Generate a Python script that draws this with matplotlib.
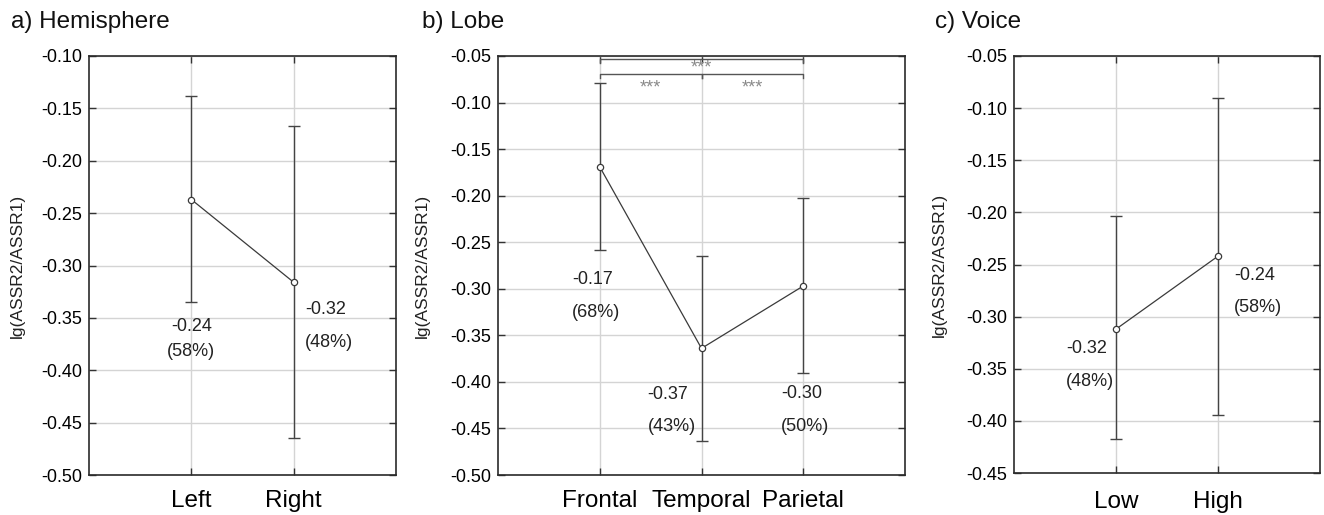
import matplotlib
matplotlib.use("Agg")
import matplotlib.pyplot as plt
from matplotlib.ticker import FormatStrFormatter, MultipleLocator

plt.rcParams.update({
    "font.family": ["Liberation Sans", "DejaVu Sans"],
    "axes.unicode_minus": False,
})

# ---- data ----
# a) Hemisphere
hemi_cats = ["Left", "Right"]
hemi_mean = [-0.237, -0.316]
hemi_low = [-0.335, -0.465]
hemi_high = [-0.138, -0.167]
hemi_vals = ["-0.24", "-0.32"]
hemi_pcts = ["(58%)", "(48%)"]

# b) Lobe
lobe_cats = ["Frontal", "Temporal", "Parietal"]
lobe_mean = [-0.169, -0.364, -0.297]
lobe_low = [-0.258, -0.463, -0.390]
lobe_high = [-0.079, -0.265, -0.202]
lobe_vals = ["-0.17", "-0.37", "-0.30"]
lobe_pcts = ["(68%)", "(43%)", "(50%)"]
lobe_pairs = [(0, 2), (0, 1), (1, 2)]
lobe_sig = ["***", "***", "***"]

# c) Voice
voice_cats = ["Low", "High"]
voice_mean = [-0.312, -0.242]
voice_low = [-0.417, -0.394]
voice_high = [-0.203, -0.090]
voice_vals = ["-0.32", "-0.24"]
voice_pcts = ["(48%)", "(58%)"]

# ---- styling ----
W, H = 1324, 515
LINE = "#3a3a3a"
GRID = "#d4d4d4"

fig = plt.figure(figsize=(W / 100, H / 100), dpi=100)


def px_axes(left, right, top, bottom):
    return fig.add_axes([left / W, 1 - bottom / H, (right - left) / W, (bottom - top) / H])


def panel(ax, cats, mean, low, high, vals, pcts, ylim, val_off, pct_off, ylab_x, xpad):
    x = list(range(len(cats)))
    yerr = [[m - l for m, l in zip(mean, low)], [h - m for m, h in zip(mean, high)]]
    ax.errorbar(x, mean, yerr=yerr, fmt="none", ecolor="#444444", elinewidth=1.0,
                capsize=4, capthick=1.0, zorder=3)
    ax.plot(x, mean, color=LINE, lw=0.9, marker="o", ms=4.5, mfc="white",
            mec=LINE, mew=0.9, zorder=4)
    for i in x:
        ax.annotate(vals[i], xy=(i, mean[i]), xytext=val_off[i], textcoords="offset pixels",
                    ha="center", va="center", fontsize=13, color="#222222", zorder=5)
        ax.annotate(pcts[i], xy=(i, mean[i]), xytext=pct_off[i], textcoords="offset pixels",
                    ha="center", va="center", fontsize=13, color="#222222", zorder=5)
    ax.set_xlim(-1, len(cats))
    ax.set_ylim(*ylim)
    ax.set_xticks(x)
    ax.set_xticklabels(cats, fontsize=17.5)
    ax.yaxis.set_major_locator(MultipleLocator(0.05))
    ax.yaxis.set_major_formatter(FormatStrFormatter("%.2f"))
    ax.tick_params(axis="y", labelsize=13, pad=5)
    ax.tick_params(axis="x", pad=xpad)
    ax.tick_params(direction="in", top=True, right=True, length=5, width=1, color="#333333")
    ax.grid(True, color=GRID, lw=1.0)
    ax.set_axisbelow(True)
    for s in ax.spines.values():
        s.set_color("#2a2a2a")
        s.set_linewidth(1.2)
    ax.set_ylabel("lg(ASSR2/ASSR1)", fontsize=12.5, color="#222222")
    ax.yaxis.set_label_coords(ylab_x, 0.5)


ax_a = px_axes(89, 396, 56, 475)
panel(ax_a, hemi_cats, hemi_mean, hemi_low, hemi_high, hemi_vals, hemi_pcts,
      (-0.50, -0.10), [(0, -127), (32, -27)], [(0, -152), (35, -60)], -64 / 307, 11)

ax_b = px_axes(498, 905, 56, 475)
panel(ax_b, lobe_cats, lobe_mean, lobe_low, lobe_high, lobe_vals, lobe_pcts,
      (-0.50, -0.05), [(-7, -113), (-34, -46), (-1, -108)],
      [(-4, -146), (-30, -78), (2, -141)], -68 / 407, 11)

# significance brackets
levels = [-0.0532, -0.0697, -0.0697]
star_dy = [-14, -18, -18]
drop = 0.004
for (i, j), lab, lev, dy in zip(lobe_pairs, lobe_sig, levels, star_dy):
    ax_b.plot([i, i, j, j], [lev - drop, lev, lev, lev - drop], color="#555555", lw=1.0, zorder=4)
    ax_b.annotate(lab, xy=((i + j) / 2, lev), xytext=(0, dy), textcoords="offset pixels",
                  ha="center", va="baseline", fontsize=13, color="#8a8a8a")

ax_c = px_axes(1014, 1320, 56, 473)
panel(ax_c, voice_cats, voice_mean, voice_low, voice_high, voice_vals, voice_pcts,
      (-0.45, -0.05), [(-29, -19), (37, -19)], [(-26, -52), (40, -51)], -67 / 306, 13)

fig.text(11 / W, 1 - 22 / H, "a) Hemisphere", fontsize=17.5, va="center", ha="left", color="#111111")
fig.text(422 / W, 1 - 22 / H, "b) Lobe", fontsize=17.5, va="center", ha="left", color="#111111")
fig.text(935 / W, 1 - 22 / H, "c) Voice", fontsize=17.5, va="center", ha="left", color="#111111")

fig.savefig("out.png", dpi=100)
